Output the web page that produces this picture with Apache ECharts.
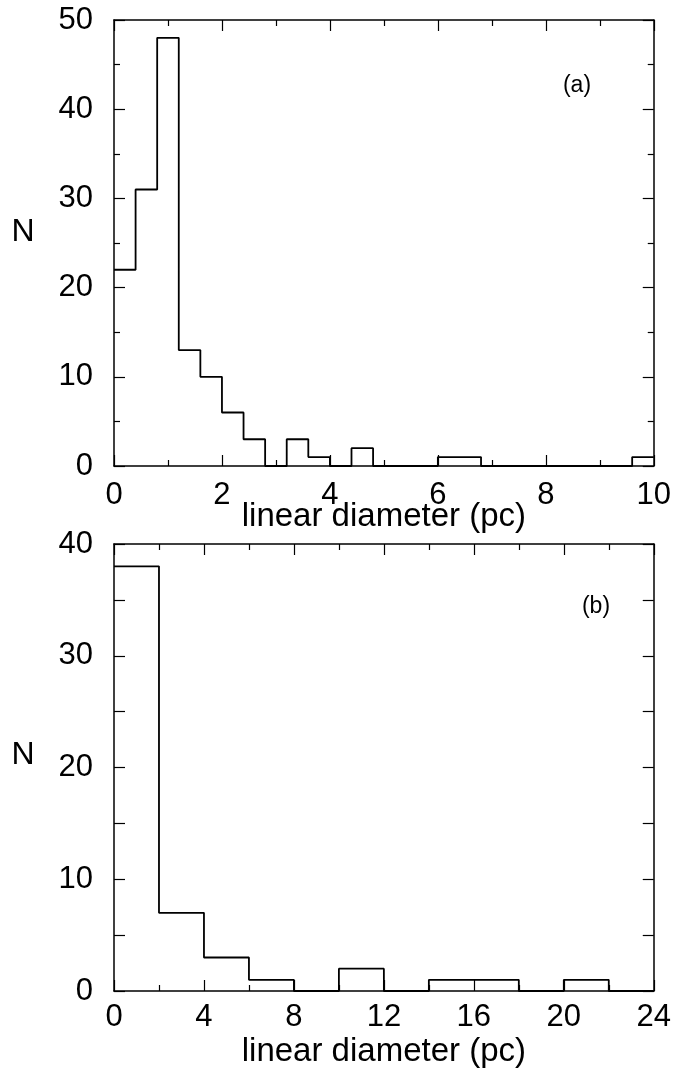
<!DOCTYPE html>
<html>
<head>
<meta charset="utf-8">
<script src="https://cdn.jsdelivr.net/npm/echarts@6/dist/echarts.min.js"></script>
<style>
html,body{margin:0;padding:0;background:#fff;}
#c{width:674px;height:1081px;}
</style>
</head>
<body>
<div id="c"></div>
<script>
// ---- data ----
const binWidthA = 0.4;
const countsA = [22,31,48,13,10,6,3,0,3,1,0,2,0,0,0,1,1,0,0,0,0,0,0,0,1];
const binWidthB = 2;
const countsB = [38,7,3,1,0,2,0,1,1,0,1,0];
const xRangeA = [0, 10], xStepA = 2;
const yRangeA = [0, 50], yStepA = 10;
const xRangeB = [0, 24], xStepB = 4;
const yRangeB = [0, 40], yStepB = 5;
const xName = 'linear diameter (pc)';
const yName = 'N';
const panelLabels = ['(a)', '(b)'];

function stepPoints(counts, w) {
  const pts = counts.map((c, i) => [i * w, c]);
  pts.push([counts.length * w, counts[counts.length - 1]]);
  return pts;
}

const FONT = 'Liberation Sans, Arial, Helvetica, sans-serif';
const black = '#000';

function xAxisPair(gridIndex, range, step, labelMargin, nameGap, minorSplit) {
  const common = {
    gridIndex, type: 'value', min: range[0], max: range[1], interval: step,
    axisLine: {show: true, onZero: false, lineStyle: {color: black, width: 1.5}},
    axisTick: {show: true, inside: true, length: 11, lineStyle: {color: black, width: 1.2}},
    minorTick: {show: true, splitNumber: minorSplit, length: 6, lineStyle: {color: black, width: 1.2}},
    splitLine: {show: false}
  };
  return [
    Object.assign({}, common, {
      position: 'bottom',
      axisLabel: {show: true, margin: labelMargin, color: black, fontSize: 31, fontFamily: FONT},
      name: xName, nameLocation: 'middle', nameGap: nameGap, nameMoveOverlap: false,
      nameTextStyle: {color: black, fontSize: 33, fontFamily: FONT}
    }),
    Object.assign({}, common, {position: 'top', axisLabel: {show: false}})
  ];
}

function yAxisPair(gridIndex, range, step, minorShow, labelFilter) {
  const common = {
    gridIndex, type: 'value', min: range[0], max: range[1], interval: step,
    axisLine: {show: true, onZero: false, lineStyle: {color: black, width: 1.5}},
    axisTick: {show: true, inside: true, length: 11, lineStyle: {color: black, width: 1.2}},
    minorTick: {show: minorShow, splitNumber: 2, length: 6, lineStyle: {color: black, width: 1.2}},
    splitLine: {show: false}
  };
  return [
    Object.assign({}, common, {
      position: 'left',
      axisLabel: {show: true, margin: 21, color: black, fontSize: 31, fontFamily: FONT,
        formatter: v => labelFilter(v) ? String(v) : ''}
    }),
    Object.assign({}, common, {position: 'right', axisLabel: {show: false}})
  ];
}

const xa = xAxisPair(0, xRangeA, xStepA, 14, 34, 2);
const xb = xAxisPair(1, xRangeB, xStepB, 11, 44, 2);
const ya = yAxisPair(0, yRangeA, yStepA, true, v => true);
const yb = yAxisPair(1, yRangeB, yStepB, false, v => v % 10 === 0);

function label(text, x, y, size) {
  return {type: 'text', x: x, y: y,
    style: {text: text, fill: black, fontSize: size, fontFamily: FONT, align: 'center', verticalAlign: 'middle'}};
}

const chart = echarts.init(document.getElementById('c'), null, {renderer: 'canvas'});
chart.setOption({
  backgroundColor: '#fff',
  animation: false,
  grid: [
    {left: 114, right: 20, top: 20, height: 446, containLabel: false},
    {left: 114, right: 20, top: 544, height: 447, containLabel: false}
  ],
  xAxis: [xa[0], xa[1], xb[0], xb[1]],
  yAxis: [ya[0], ya[1], yb[0], yb[1]],
  series: [
    {type: 'line', xAxisIndex: 0, yAxisIndex: 0, step: 'end', showSymbol: false,
     lineStyle: {color: black, width: 1.8}, data: stepPoints(countsA, binWidthA), z: 1},
    {type: 'line', xAxisIndex: 2, yAxisIndex: 2, step: 'end', showSymbol: false,
     lineStyle: {color: black, width: 1.8}, data: stepPoints(countsB, binWidthB), z: 1}
  ],
  graphic: [
    label(yName, 23, 232, 32),
    label(yName, 23, 755, 32),
    label(panelLabels[0], 577, 86, 23),
    label(panelLabels[1], 596, 607, 23)
  ]
});
</script>
</body>
</html>
